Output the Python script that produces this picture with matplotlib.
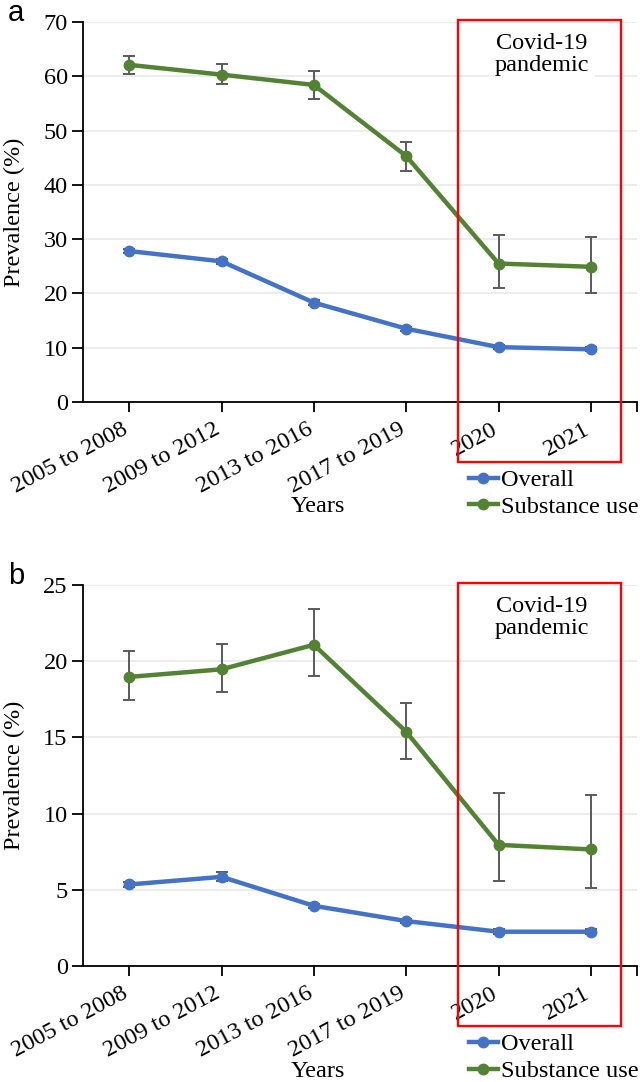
import numpy as np
import matplotlib
matplotlib.use('Agg')
import matplotlib.pyplot as plt
import matplotlib.transforms as mtransforms
from matplotlib.patches import Rectangle

plt.rcParams['font.family'] = 'serif'
plt.rcParams['font.serif'] = ['Liberation Serif', 'DejaVu Serif']

years = ["2005 to 2008", "2009 to 2012", "2013 to 2016", "2017 to 2019", "2020", "2021"]

# panel a
a_overall = [27.8, 25.9, 18.3, 13.5, 10.1, 9.7]
a_overall_lo = [27.4, 25.5, 17.9, 13.1, 9.7, 9.3]
a_overall_hi = [28.2, 26.3, 18.7, 13.9, 10.5, 10.1]
a_subst = [62.1, 60.3, 58.4, 45.3, 25.5, 24.9]
a_subst_lo = [60.4, 58.5, 55.8, 42.5, 21.0, 20.1]
a_subst_hi = [63.8, 62.3, 60.9, 47.8, 30.7, 30.4]

# panel b
b_overall = [5.35, 5.85, 3.95, 2.95, 2.25, 2.25]
b_overall_lo = [5.2, 5.6, 3.8, 2.8, 2.1, 2.1]
b_overall_hi = [5.5, 6.15, 4.1, 3.1, 2.4, 2.4]
b_subst = [18.97, 19.47, 21.08, 15.37, 7.95, 7.65]
b_subst_lo = [17.45, 17.95, 19.0, 13.6, 5.55, 5.15]
b_subst_hi = [20.7, 21.1, 23.4, 17.27, 11.35, 11.2]

blue = "#4472C4"
green = "#548235"
fs = 17.5

fig = plt.figure(figsize=(6.42, 10.82), dpi=100)
ax_a = fig.add_axes([0.1293, 0.6285, 0.863, 0.3512])
ax_b = fig.add_axes([0.1293, 0.1072, 0.863, 0.3521])


def draw(ax, ov, ov_lo, ov_hi, su, su_lo, su_hi, ymax, ystep, letter):
    x = np.arange(len(years))
    ov = np.array(ov); su = np.array(su)
    ov_err = [ov - np.array(ov_lo), np.array(ov_hi) - ov]
    su_err = [su - np.array(su_lo), np.array(su_hi) - su]
    ax.errorbar(x, ov, yerr=ov_err, fmt='none', ecolor='#5a5a5a', elinewidth=1.4, capsize=4, capthick=1.4, zorder=3)
    ax.errorbar(x, su, yerr=su_err, fmt='none', ecolor='#5a5a5a', elinewidth=1.4, capsize=4, capthick=1.4, zorder=3)
    ax.plot(x, ov, '-o', color=blue, lw=3.2, markersize=7.5, label='Overall', zorder=4)
    ax.plot(x, su, '-o', color=green, lw=3.2, markersize=7.5, label='Substance use', zorder=4)

    ax.set_xlim(-0.5, 5.5)
    ax.set_ylim(0, ymax)
    ax.set_yticks(np.arange(0, ymax + 0.1, ystep))
    ax.set_xticks(x)
    ax.set_xticks([5.5], minor=True)
    ax.set_xticklabels(years, rotation=28, ha='right', va='baseline', rotation_mode='anchor')
    ax.tick_params(axis='both', labelsize=fs, width=1.3, color='black')
    ax.tick_params(axis='y', length=8, pad=3)
    ax.tick_params(axis='x', which='both', length=7.5, pad=15, width=1.3)
    for s in ['top', 'right']:
        ax.spines[s].set_visible(False)
    for s in ['left', 'bottom']:
        ax.spines[s].set_linewidth(1.3)
    ax.set_axisbelow(True)
    ax.yaxis.grid(True, color='#ebebeb', lw=1.3)

    ax.text(-0.123, 0.5, 'Prevalence (%)', transform=ax.transAxes, fontsize=fs, rotation=90,
            ha='center', va='center')
    ax.text(0.424, -0.276, 'Years', transform=ax.transAxes, fontsize=fs, ha='center', va='center')

    trans = mtransforms.blended_transform_factory(ax.transData, ax.transAxes)
    ax.add_patch(Rectangle((3.565, -0.158), 5.326 - 3.565, 1.164, transform=trans,
                           fill=False, edgecolor='red', lw=1.7, clip_on=False, zorder=5))
    ax.text(4.47, 0.971, 'Covid-19\npandemic', transform=trans, fontsize=fs, ha='center', va='top',
            linespacing=1.07, bbox=dict(facecolor='white', edgecolor='none', pad=4), zorder=2)

    ax.legend(loc='center left', bbox_to_anchor=(0.696, -0.241), frameon=False, fontsize=fs,
              borderpad=0, borderaxespad=0, handlelength=1.2, handletextpad=0.12, labelspacing=0.2)

    ax.text(-0.135, 1.003, letter, transform=ax.transAxes, fontsize=21, family='Liberation Sans',
            ha='left', va='baseline')


draw(ax_a, a_overall, a_overall_lo, a_overall_hi, a_subst, a_subst_lo, a_subst_hi, 70, 10, 'a')
draw(ax_b, b_overall, b_overall_lo, b_overall_hi, b_subst, b_subst_lo, b_subst_hi, 25, 5, 'b')

fig.savefig('out.png', dpi=100)
